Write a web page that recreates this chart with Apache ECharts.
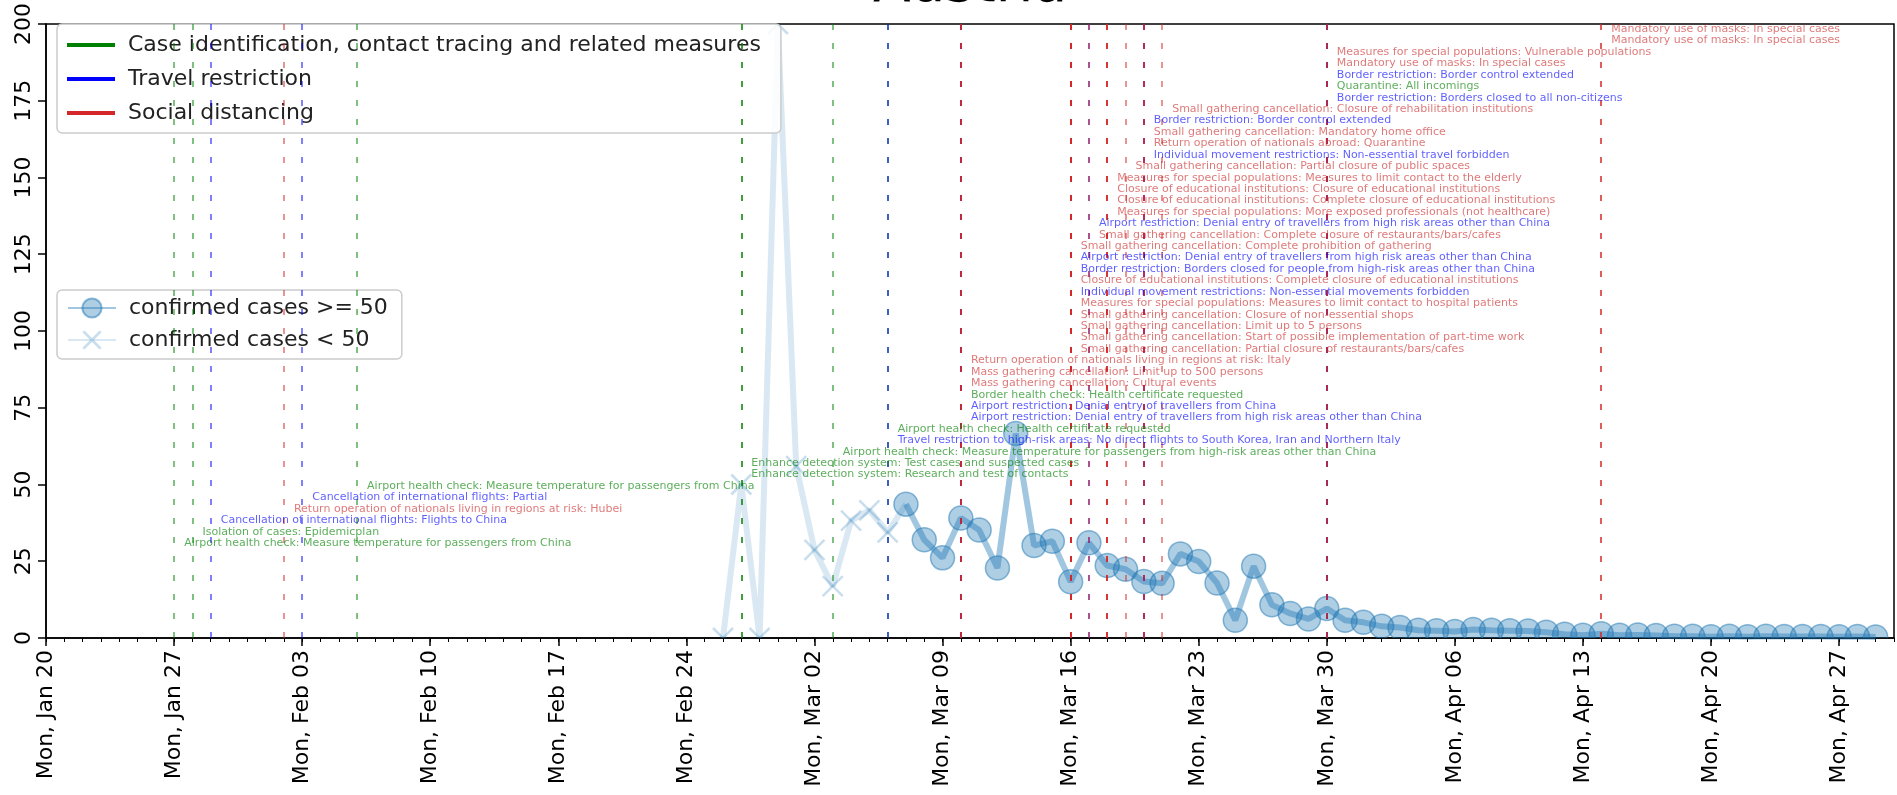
<!DOCTYPE html>
<html>
<head>
<meta charset="utf-8">
<title>Austria – daily growth of confirmed cases and policy measures</title>
<script src="https://cdn.jsdelivr.net/npm/echarts@6/dist/echarts.min.js"></script>
<style>
  html, body { margin: 0; padding: 0; background: #ffffff; }
  #chart { width: 1897px; height: 795px; }
</style>
</head>
<body>
<div id="chart"></div>
<script>
// ---- axis range and ticks ----
const axisStart = '2020-01-20';
const axisEnd = '2020-04-30';
const weekTick = 7;
const yTickValues = [0, 25, 50, 75, 100, 125, 150, 175, 200];

// ---- daily growth of confirmed cases (%) ----
// period with fewer than 50 confirmed cases, one value per day from Feb 26
const lowStart = '2020-02-26';
const growthLow = [0, 50, 0, 200, 56, 28.7, 16.9, 38.2, 41.6, 34.4];
// period with at least 50 confirmed cases, one value per day from Mar 7
const highStart = '2020-03-07';
const growthHigh = [
  43.6, 32.0, 26.1, 39.1, 35.2, 22.8, 66.6, 30.1, 31.5, 18.3,
  31.0, 23.6, 22.4, 18.4, 17.8, 27.4, 24.9, 17.9, 5.8, 23.4,
  10.8, 8.0, 6.2, 9.6, 5.8,
  5.1, 3.8, 3.4, 2.5, 2.4, 2.1, 2.8, 2.5, 2.4, 2.3,
  1.9, 1.2, 0.9, 1.4, 0.9, 1.0, 0.8, 0.6, 0.6, 0.4,
  0.6, 0.4, 0.6, 0.5, 0.5, 0.5, 0.4, 0.5, 0.3
];

// ---- policy measures ----
const measureCategories = [
  'Case identification, contact tracing and related measures',
  'Travel restriction',
  'Social distancing'
];
const measureDates = [
  '2020-01-27', '2020-01-28', '2020-01-29', '2020-02-02', '2020-02-03', '2020-02-06',
  '2020-02-27', '2020-02-27', '2020-03-03', '2020-03-06', '2020-03-06',
  '2020-03-10', '2020-03-10', '2020-03-10', '2020-03-10', '2020-03-10', '2020-03-10',
  '2020-03-16', '2020-03-16', '2020-03-16', '2020-03-16', '2020-03-16',
  '2020-03-16', '2020-03-16', '2020-03-16', '2020-03-16', '2020-03-16',
  '2020-03-17', '2020-03-17',
  '2020-03-18', '2020-03-18', '2020-03-18', '2020-03-18',
  '2020-03-19',
  '2020-03-20', '2020-03-20', '2020-03-20', '2020-03-20',
  '2020-03-21',
  '2020-03-30', '2020-03-30', '2020-03-30', '2020-03-30', '2020-03-30',
  '2020-04-14', '2020-04-14'
];
// 0 = case identification, 1 = travel restriction, 2 = social distancing
const measureKinds = [
  0, 0, 1, 2, 1, 0,
  0, 0, 0, 1, 0,
  1, 1, 0, 2, 2, 2,
  2, 2, 2, 2, 2,
  1, 2, 1, 1, 2,
  2, 1,
  2, 2, 2, 2,
  2,
  1, 2, 2, 1,
  2,
  1, 0, 1, 2, 2,
  2, 2
];
const measureTexts = [
  'Airport health check: Measure temperature for passengers from China',
  'Isolation of cases: Epidemicplan',
  'Cancellation of international flights: Flights to China',
  'Return operation of nationals living in regions at risk: Hubei',
  'Cancellation of international flights: Partial',
  'Airport health check: Measure temperature for passengers from China',
  'Enhance detection system: Research and test of contacts',
  'Enhance detection system: Test cases and suspected cases',
  'Airport health check: Measure temperature for passengers from high-risk areas other than China',
  'Travel restriction to high-risk areas: No direct flights to South Korea, Iran and Northern Italy',
  'Airport health check: Health certificate requested',
  'Airport restriction: Denial entry of travellers from high risk areas other than China',
  'Airport restriction: Denial entry of travellers from China',
  'Border health check: Health certificate requested',
  'Mass gathering cancellation: Cultural events',
  'Mass gathering cancellation: Limit up to 500 persons',
  'Return operation of nationals living in regions at risk: Italy',
  'Small gathering cancellation: Partial closure of restaurants/bars/cafes',
  'Small gathering cancellation: Start of possible implementation of part-time work',
  'Small gathering cancellation: Limit up to 5 persons',
  'Small gathering cancellation: Closure of non-essential shops',
  'Measures for special populations: Measures to limit contact to hospital patients',
  'Individual movement restrictions: Non-essential movements forbidden',
  'Closure of educational institutions: Complete closure of educational institutions',
  'Border restriction: Borders closed for people from high-risk areas other than China',
  'Airport restriction: Denial entry of travellers from high risk areas other than China',
  'Small gathering cancellation: Complete prohibition of gathering',
  'Small gathering cancellation: Complete closure of restaurants/bars/cafes',
  'Airport restriction: Denial entry of travellers from high risk areas other than China',
  'Measures for special populations: More exposed professionals (not healthcare)',
  'Closure of educational institutions: Complete closure of educational institutions',
  'Closure of educational institutions: Closure of educational institutions',
  'Measures for special populations: Measures to limit contact to the elderly',
  'Small gathering cancellation: Partial closure of public spaces',
  'Individual movement restrictions: Non-essential travel forbidden',
  'Return operation of nationals abroad: Quarantine',
  'Small gathering cancellation: Mandatory home office',
  'Border restriction: Border control extended',
  'Small gathering cancellation: Closure of rehabilitation institutions',
  'Border restriction: Borders closed to all non-citizens',
  'Quarantine: All incomings',
  'Border restriction: Border control extended',
  'Mandatory use of masks: In special cases',
  'Measures for special populations: Vulnerable populations',
  'Mandatory use of masks: In special cases',
  'Mandatory use of masks: In special cases'
];

// ---- helpers ----
const DAY_MS = 86400000;
function utc(iso) {
  const p = iso.split('-').map(Number);
  return Date.UTC(p[0], p[1] - 1, p[2]);
}
const originMs = utc(axisStart);
function dayIndex(iso) { return Math.round((utc(iso) - originMs) / DAY_MS); }
const WEEKDAYS = ['Sun', 'Mon', 'Tue', 'Wed', 'Thu', 'Fri', 'Sat'];
const MONTHS = ['Jan', 'Feb', 'Mar', 'Apr', 'May', 'Jun', 'Jul', 'Aug', 'Sep', 'Oct', 'Nov', 'Dec'];
function dayLabel(idx) {
  const d = new Date(originMs + idx * DAY_MS);
  const dd = String(d.getUTCDate()).padStart(2, '0');
  return WEEKDAYS[d.getUTCDay()] + ', ' + MONTHS[d.getUTCMonth()] + ' ' + dd;
}

// ---- styling ----
const FONT = 'DejaVu Sans';
const kindColors = ['#008000', '#0000ff', '#d62728'];
const kindLineColors = ['rgba(0,128,0,0.5)', 'rgba(0,0,255,0.5)', 'rgba(214,39,40,0.5)'];
const kindTextColors = ['rgba(0,128,0,0.8)', 'rgba(0,0,255,0.8)', 'rgba(200,30,30,0.75)'];
// annotations are stacked upward, one text row per measure
const noteBase = 30.9;
const noteStep = 3.72;
const GRID = { left: 46, right: 3, top: 16, bottom: 157 };
const TITLE_SIZE = 55;

const lowFill = 'rgba(31,119,180,0.24)';
const lowLine = 'rgba(31,119,180,0.17)';
const highFill = 'rgba(31,119,180,0.36)';
const highEdge = 'rgba(31,119,180,0.5)';
const highLine = 'rgba(31,119,180,0.42)';
const crossSymbol = 'path://M0,1 L1,0 L5,4 L9,0 L10,1 L6,5 L10,9 L9,10 L5,6 L1,10 L0,9 L4,5 Z';

// ---- series data ----
const lowStartIdx = dayIndex(lowStart);
const highStartIdx = dayIndex(highStart);
const lowPoints = growthLow.map((v, i) => [lowStartIdx + i, v]);
const highPoints = growthHigh.map((v, i) => [highStartIdx + i, v]);
// the low-period line runs on to the first day of the high period
const lowLineData = lowPoints.concat([highPoints[0]]);

const series = [];

measureCategories.forEach((name, k) => {
  const lines = [];
  measureDates.forEach((d, i) => {
    if (measureKinds[i] === k) lines.push({ xAxis: dayIndex(d) });
  });
  series.push({
    name: name,
    type: 'line',
    data: [],
    itemStyle: { color: kindColors[k] },
    lineStyle: { color: kindColors[k], width: 4 },
    markLine: {
      silent: true,
      animation: false,
      symbol: ['none', 'none'],
      label: { show: false },
      emphasis: { disabled: true },
      lineStyle: { type: [6, 13], width: 2, color: kindLineColors[k] },
      data: lines
    },
    z: 1
  });
});

series.push({
  name: 'confirmed cases < 50',
  type: 'line',
  data: lowLineData,
  showSymbol: false,
  symbol: crossSymbol,
  symbolSize: 20,
  itemStyle: { color: lowFill },
  lineStyle: { color: lowLine, width: 6 },
  emphasis: { disabled: true },
  animation: false,
  z: 3
});

series.push({
  name: 'confirmed cases >= 50',
  type: 'line',
  data: highPoints,
  showSymbol: false,
  symbol: 'circle',
  symbolSize: 22,
  itemStyle: { color: highFill, borderColor: highEdge, borderWidth: 1.5 },
  lineStyle: { color: highLine, width: 6 },
  emphasis: { disabled: true },
  animation: false,
  z: 4
});

// markers drawn as clipped shapes so those on the frame are cut by it
series.push({
  name: 'low markers',
  type: 'custom',
  data: lowPoints,
  clip: true,
  silent: true,
  animation: false,
  z: 3,
  renderItem: (params, api) => {
    const p = api.coord([api.value(0), api.value(1)]);
    const h = 10;
    const st = { stroke: lowFill, lineWidth: 2.5, fill: null };
    return {
      type: 'group',
      children: [
        { type: 'line', shape: { x1: p[0] - h, y1: p[1] - h, x2: p[0] + h, y2: p[1] + h }, style: st },
        { type: 'line', shape: { x1: p[0] - h, y1: p[1] + h, x2: p[0] + h, y2: p[1] - h }, style: st }
      ]
    };
  }
});

series.push({
  name: 'high markers',
  type: 'custom',
  data: highPoints,
  clip: true,
  silent: true,
  animation: false,
  z: 4,
  renderItem: (params, api) => {
    const p = api.coord([api.value(0), api.value(1)]);
    return {
      type: 'circle',
      shape: { cx: p[0], cy: p[1], r: 12 },
      style: { fill: highFill, stroke: highEdge, lineWidth: 1.5 }
    };
  }
});

measureCategories.forEach((name, k) => {
  const notes = [];
  measureDates.forEach((d, i) => {
    if (measureKinds[i] === k) notes.push([dayIndex(d), noteBase + i * noteStep, measureTexts[i]]);
  });
  series.push({
    name: name + ' notes',
    type: 'scatter',
    data: notes,
    symbolSize: 0.1,
    itemStyle: { color: 'transparent' },
    silent: true,
    animation: false,
    label: {
      show: true,
      position: 'right',
      distance: 10,
      formatter: p => p.data[2],
      fontFamily: FONT,
      fontSize: 11,
      color: kindTextColors[k]
    },
    z: 6
  });
});

// centre the title over the plotting area
const measureCtx = document.createElement('canvas').getContext('2d');
measureCtx.font = TITLE_SIZE + 'px "' + FONT + '"';
const titleWidth = measureCtx.measureText('Austria').width;
const plotCentre = GRID.left + (1897 - GRID.left - GRID.right) / 2;

const legendText = { fontFamily: FONT, fontSize: 22, color: '#222', padding: [0, 0, 0, 8] };

const chart = echarts.init(document.getElementById('chart'), null, { renderer: 'canvas' });
chart.setOption({
  animation: false,
  backgroundColor: '#ffffff',
  textStyle: { fontFamily: FONT },
  title: {
    text: 'Austria',
    left: Math.round(plotCentre - titleWidth / 2),
    top: -41,
    padding: 0,
    textStyle: { fontFamily: FONT, fontSize: TITLE_SIZE, fontWeight: 'normal', color: '#000' }
  },
  grid: Object.assign({ show: true, borderColor: '#000', borderWidth: 1.5, backgroundColor: 'transparent' }, GRID),
  legend: [
    {
      data: measureCategories.map((n, k) => ({ name: n, icon: 'rect', itemStyle: { color: kindColors[k] } })),
      orient: 'vertical',
      left: 57, top: 24,
      itemWidth: 48, itemHeight: 4, itemGap: 12,
      padding: [10, 20, 9, 10],
      selectedMode: false,
      backgroundColor: 'rgba(255,255,255,0.85)',
      borderColor: '#cccccc', borderWidth: 1.5, borderRadius: 5,
      textStyle: legendText
    },
    {
      data: ['confirmed cases >= 50', 'confirmed cases < 50'],
      orient: 'vertical',
      left: 57, top: 290,
      itemWidth: 48, itemHeight: 24, itemGap: 10,
      padding: [7, 14, 8, 10],
      selectedMode: false,
      backgroundColor: 'rgba(255,255,255,0.85)',
      borderColor: '#cccccc', borderWidth: 1.5, borderRadius: 5,
      textStyle: legendText
    }
  ],
  xAxis: [
    {
      type: 'value',
      min: 0, max: dayIndex(axisEnd), interval: weekTick,
      position: 'bottom',
      axisLine: { show: true, lineStyle: { color: '#000', width: 1.5 } },
      axisTick: { show: true, length: 8, lineStyle: { color: '#000', width: 1.5 } },
      axisLabel: {
        rotate: 90, margin: 12, fontSize: 22, color: '#000', fontFamily: FONT,
        showMaxLabel: false,
        formatter: v => (v % weekTick === 0 ? dayLabel(v) : '')
      },
      splitLine: { show: false }
    },
    {
      type: 'value',
      min: 0, max: dayIndex(axisEnd), interval: 1,
      position: 'bottom',
      axisLine: { show: false },
      axisTick: { show: true, length: 4, lineStyle: { color: '#000', width: 1 } },
      axisLabel: { show: false },
      splitLine: { show: false }
    }
  ],
  yAxis: {
    type: 'value',
    min: yTickValues[0], max: yTickValues[yTickValues.length - 1],
    interval: yTickValues[1] - yTickValues[0],
    axisLine: { show: true, lineStyle: { color: '#000', width: 1.5 } },
    axisTick: { show: true, length: 8, lineStyle: { color: '#000', width: 1.5 } },
    axisLabel: { rotate: 90, margin: 11, fontSize: 22, color: '#000', fontFamily: FONT },
    splitLine: { show: false }
  },
  series: series
});
</script>
</body>
</html>
